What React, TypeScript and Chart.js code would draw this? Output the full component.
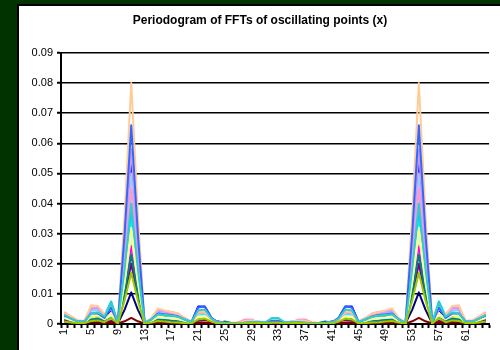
import React, { useEffect, useRef } from "react";
import { Chart, registerables } from "chart.js";

Chart.register(...registerables);

const chartTitle = "Periodogram of FFTs of oscillating points (x)";

const categories = [
  "1","2","3","4","5","6","7","8","9","10","11","12","13","14","15","16",
  "17","18","19","20","21","22","23","24","25","26","27","28","29","30","31","32",
  "33","34","35","36","37","38","39","40","41","42","43","44","45","46","47","48",
  "49","50","51","52","53","54","55","56","57","58","59","60","61","62","63","64",
];

const yTicks = [0, 0.01, 0.02, 0.03, 0.04, 0.05, 0.06, 0.07, 0.08, 0.09];

const navy = [15e-4,10e-4,5e-4,5e-4,10e-4,12e-4,5e-4,8e-4,2e-4, 47e-4,105e-4,47e-4, 2e-4,5e-4,8e-4,6e-4,5e-4,4e-4,3e-4,2e-4,10e-4,12e-4,6e-4,8e-4,4e-4,2e-4,2e-4,1e-4,2e-4,2e-4,1e-4,3e-4, 3e-4,1e-4,2e-4,2e-4,1e-4,2e-4,2e-4,4e-4,8e-4,6e-4,12e-4,10e-4,2e-4,3e-4,4e-4,5e-4,6e-4,8e-4,5e-4,2e-4, 47e-4,105e-4,47e-4, 2e-4,8e-4,5e-4,12e-4,10e-4,5e-4,5e-4,10e-4,15e-4];
const magenta = [20e-4,10e-4,5e-4,5e-4,12e-4,15e-4,8e-4,10e-4,3e-4, 117e-4,260e-4,117e-4, 3e-4,8e-4,15e-4,12e-4,10e-4,8e-4,5e-4,3e-4,15e-4,15e-4,8e-4,3e-4,2e-4,1e-4,1e-4,2e-4,5e-4,5e-4,2e-4,3e-4, 3e-4,2e-4,5e-4,5e-4,2e-4,1e-4,1e-4,2e-4,3e-4,8e-4,15e-4,15e-4,3e-4,5e-4,8e-4,10e-4,12e-4,15e-4,8e-4,3e-4, 117e-4,260e-4,117e-4, 3e-4,10e-4,8e-4,15e-4,12e-4,5e-4,5e-4,10e-4,20e-4];
const yellow = [10e-4,8e-4,5e-4,8e-4,20e-4,25e-4,10e-4,12e-4,3e-4, 135e-4,300e-4,135e-4, 2e-4,6e-4,12e-4,10e-4,8e-4,6e-4,4e-4,3e-4,12e-4,12e-4,5e-4,2e-4,2e-4,3e-4,5e-4,3e-4,3e-4,3e-4,2e-4,2e-4, 2e-4,2e-4,3e-4,3e-4,3e-4,5e-4,3e-4,2e-4,2e-4,5e-4,12e-4,12e-4,3e-4,4e-4,6e-4,8e-4,10e-4,12e-4,6e-4,2e-4, 135e-4,300e-4,135e-4, 3e-4,12e-4,10e-4,25e-4,20e-4,8e-4,5e-4,8e-4,10e-4];
const cyan = [25e-4,15e-4,8e-4,6e-4,30e-4,35e-4,25e-4,65e-4,5e-4, 158e-4,350e-4,158e-4, 3e-4,12e-4,25e-4,22e-4,20e-4,18e-4,12e-4,5e-4,30e-4,32e-4,15e-4,3e-4,2e-4,2e-4,2e-4,3e-4,5e-4,5e-4,3e-4,12e-4, 12e-4,3e-4,5e-4,5e-4,3e-4,2e-4,2e-4,2e-4,3e-4,15e-4,32e-4,30e-4,5e-4,12e-4,18e-4,20e-4,22e-4,25e-4,12e-4,3e-4, 158e-4,350e-4,158e-4, 5e-4,65e-4,25e-4,35e-4,30e-4,6e-4,8e-4,15e-4,25e-4];
const purple = [12e-4,8e-4,5e-4,4e-4,10e-4,12e-4,6e-4,10e-4,3e-4, 90e-4,200e-4,90e-4, 2e-4,6e-4,12e-4,10e-4,9e-4,8e-4,5e-4,3e-4,12e-4,14e-4,8e-4,6e-4,3e-4,2e-4,2e-4,3e-4,4e-4,4e-4,2e-4,3e-4, 3e-4,2e-4,4e-4,4e-4,3e-4,2e-4,2e-4,3e-4,6e-4,8e-4,14e-4,12e-4,3e-4,5e-4,8e-4,9e-4,10e-4,12e-4,6e-4,2e-4, 90e-4,200e-4,90e-4, 3e-4,10e-4,6e-4,12e-4,10e-4,4e-4,5e-4,8e-4,12e-4];
const darkRed = [8e-4,5e-4,3e-4,3e-4,5e-4,5e-4,3e-4,5e-4,2e-4, 9e-4,20e-4,9e-4, 1e-4,3e-4,4e-4,4e-4,3e-4,3e-4,2e-4,2e-4,4e-4,4e-4,3e-4,2e-4,2e-4,1e-4,1e-4,1e-4,2e-4,2e-4,1e-4,2e-4, 2e-4,1e-4,2e-4,2e-4,1e-4,1e-4,1e-4,2e-4,2e-4,3e-4,4e-4,4e-4,2e-4,2e-4,3e-4,3e-4,4e-4,4e-4,3e-4,1e-4, 9e-4,20e-4,9e-4, 2e-4,5e-4,3e-4,5e-4,5e-4,3e-4,3e-4,5e-4,8e-4];
const teal = [20e-4,12e-4,6e-4,5e-4,15e-4,18e-4,10e-4,20e-4,3e-4, 104e-4,230e-4,104e-4, 2e-4,8e-4,15e-4,15e-4,12e-4,10e-4,6e-4,3e-4,20e-4,22e-4,10e-4,4e-4,8e-4,3e-4,2e-4,2e-4,3e-4,3e-4,3e-4,15e-4, 15e-4,3e-4,3e-4,3e-4,2e-4,2e-4,3e-4,8e-4,4e-4,10e-4,22e-4,20e-4,3e-4,6e-4,10e-4,12e-4,15e-4,15e-4,8e-4,2e-4, 104e-4,230e-4,104e-4, 3e-4,20e-4,10e-4,18e-4,15e-4,5e-4,6e-4,12e-4,20e-4];
const blue = [25e-4,15e-4,8e-4,8e-4,30e-4,28e-4,15e-4,50e-4,5e-4, 248e-4,550e-4,248e-4, 3e-4,12e-4,30e-4,28e-4,25e-4,20e-4,12e-4,5e-4,58e-4,58e-4,20e-4,5e-4,3e-4,2e-4,2e-4,3e-4,5e-4,5e-4,3e-4,10e-4, 10e-4,3e-4,5e-4,5e-4,3e-4,2e-4,2e-4,3e-4,5e-4,20e-4,58e-4,58e-4,5e-4,12e-4,20e-4,25e-4,28e-4,30e-4,12e-4,3e-4, 248e-4,550e-4,248e-4, 5e-4,50e-4,15e-4,28e-4,30e-4,8e-4,8e-4,15e-4,25e-4];
const skyBlue = [28e-4,18e-4,8e-4,6e-4,35e-4,38e-4,28e-4,75e-4,5e-4, 171e-4,380e-4,171e-4, 3e-4,15e-4,30e-4,28e-4,25e-4,22e-4,15e-4,6e-4,40e-4,42e-4,15e-4,4e-4,3e-4,2e-4,2e-4,3e-4,5e-4,5e-4,4e-4,15e-4, 15e-4,4e-4,5e-4,5e-4,3e-4,2e-4,2e-4,3e-4,4e-4,15e-4,42e-4,40e-4,6e-4,15e-4,22e-4,25e-4,28e-4,30e-4,15e-4,3e-4, 171e-4,380e-4,171e-4, 5e-4,75e-4,28e-4,38e-4,35e-4,6e-4,8e-4,18e-4,28e-4];
const lightTurquoise = [30e-4,20e-4,10e-4,8e-4,40e-4,45e-4,30e-4,60e-4,5e-4, 203e-4,450e-4,203e-4, 3e-4,15e-4,35e-4,32e-4,30e-4,28e-4,18e-4,6e-4,35e-4,38e-4,15e-4,4e-4,3e-4,2e-4,2e-4,4e-4,6e-4,6e-4,4e-4,12e-4, 12e-4,4e-4,6e-4,6e-4,4e-4,2e-4,2e-4,3e-4,4e-4,15e-4,38e-4,35e-4,6e-4,18e-4,28e-4,30e-4,32e-4,35e-4,15e-4,3e-4, 203e-4,450e-4,203e-4, 5e-4,60e-4,30e-4,45e-4,40e-4,8e-4,10e-4,20e-4,30e-4];
const lightGreen = [20e-4,12e-4,6e-4,5e-4,25e-4,28e-4,15e-4,30e-4,4e-4, 135e-4,300e-4,135e-4, 3e-4,10e-4,22e-4,20e-4,18e-4,16e-4,10e-4,5e-4,22e-4,24e-4,10e-4,3e-4,2e-4,2e-4,2e-4,3e-4,5e-4,5e-4,3e-4,8e-4, 8e-4,3e-4,5e-4,5e-4,3e-4,2e-4,2e-4,2e-4,3e-4,10e-4,24e-4,22e-4,5e-4,10e-4,16e-4,18e-4,20e-4,22e-4,10e-4,3e-4, 135e-4,300e-4,135e-4, 4e-4,30e-4,15e-4,28e-4,25e-4,5e-4,6e-4,12e-4,20e-4];
const lightYellow = [22e-4,14e-4,6e-4,5e-4,30e-4,30e-4,18e-4,35e-4,4e-4, 144e-4,320e-4,144e-4, 3e-4,10e-4,25e-4,22e-4,20e-4,18e-4,12e-4,5e-4,25e-4,26e-4,10e-4,3e-4,2e-4,2e-4,3e-4,4e-4,6e-4,6e-4,3e-4,8e-4, 8e-4,3e-4,6e-4,6e-4,4e-4,3e-4,2e-4,2e-4,3e-4,10e-4,26e-4,25e-4,5e-4,12e-4,18e-4,20e-4,22e-4,25e-4,10e-4,3e-4, 144e-4,320e-4,144e-4, 4e-4,35e-4,18e-4,30e-4,30e-4,5e-4,6e-4,14e-4,22e-4];
const paleBlue = [32e-4,20e-4,10e-4,8e-4,45e-4,45e-4,28e-4,55e-4,5e-4, 225e-4,500e-4,225e-4, 3e-4,15e-4,40e-4,38e-4,35e-4,30e-4,18e-4,6e-4,40e-4,42e-4,15e-4,4e-4,3e-4,2e-4,2e-4,5e-4,8e-4,8e-4,4e-4,10e-4, 10e-4,4e-4,8e-4,8e-4,5e-4,2e-4,2e-4,3e-4,4e-4,15e-4,42e-4,40e-4,6e-4,18e-4,30e-4,35e-4,38e-4,40e-4,15e-4,3e-4, 225e-4,500e-4,225e-4, 5e-4,55e-4,28e-4,45e-4,45e-4,8e-4,10e-4,20e-4,32e-4];
const rose = [40e-4,25e-4,12e-4,10e-4,55e-4,55e-4,30e-4,50e-4,5e-4, 203e-4,450e-4,203e-4, 3e-4,18e-4,45e-4,40e-4,35e-4,30e-4,18e-4,8e-4,35e-4,38e-4,15e-4,5e-4,3e-4,3e-4,5e-4,15e-4,15e-4,5e-4,4e-4,6e-4, 6e-4,4e-4,5e-4,15e-4,15e-4,5e-4,3e-4,3e-4,5e-4,15e-4,38e-4,35e-4,8e-4,18e-4,30e-4,35e-4,40e-4,45e-4,18e-4,3e-4, 203e-4,450e-4,203e-4, 5e-4,50e-4,30e-4,55e-4,55e-4,10e-4,12e-4,25e-4,40e-4];
const lavender = [35e-4,22e-4,10e-4,8e-4,50e-4,52e-4,28e-4,55e-4,5e-4, 261e-4,580e-4,261e-4, 3e-4,18e-4,45e-4,42e-4,40e-4,35e-4,20e-4,8e-4,45e-4,45e-4,18e-4,5e-4,3e-4,2e-4,3e-4,8e-4,10e-4,8e-4,4e-4,8e-4, 8e-4,4e-4,8e-4,10e-4,8e-4,3e-4,2e-4,3e-4,5e-4,18e-4,45e-4,45e-4,8e-4,20e-4,35e-4,40e-4,42e-4,45e-4,18e-4,3e-4, 261e-4,580e-4,261e-4, 5e-4,55e-4,28e-4,52e-4,50e-4,8e-4,10e-4,22e-4,35e-4];
const tan = [38e-4,25e-4,12e-4,10e-4,62e-4,60e-4,32e-4,58e-4,5e-4, 360e-4,800e-4,360e-4, 3e-4,20e-4,52e-4,45e-4,40e-4,35e-4,20e-4,8e-4,40e-4,42e-4,15e-4,5e-4,3e-4,2e-4,3e-4,10e-4,12e-4,8e-4,4e-4,6e-4, 6e-4,4e-4,8e-4,12e-4,10e-4,3e-4,2e-4,3e-4,5e-4,15e-4,42e-4,40e-4,8e-4,20e-4,35e-4,40e-4,45e-4,52e-4,20e-4,3e-4, 360e-4,800e-4,360e-4, 5e-4,58e-4,32e-4,60e-4,62e-4,10e-4,12e-4,25e-4,38e-4];
const royalBlue = [28e-4,18e-4,8e-4,8e-4,35e-4,35e-4,20e-4,55e-4,5e-4, 297e-4,660e-4,297e-4, 3e-4,15e-4,35e-4,32e-4,30e-4,25e-4,15e-4,6e-4,55e-4,58e-4,20e-4,5e-4,3e-4,2e-4,2e-4,4e-4,6e-4,6e-4,4e-4,10e-4, 10e-4,4e-4,6e-4,6e-4,4e-4,2e-4,2e-4,3e-4,5e-4,20e-4,58e-4,55e-4,6e-4,15e-4,25e-4,30e-4,32e-4,35e-4,15e-4,3e-4, 297e-4,660e-4,297e-4, 5e-4,55e-4,20e-4,35e-4,35e-4,8e-4,8e-4,18e-4,28e-4];
const aqua = [30e-4,18e-4,8e-4,6e-4,35e-4,38e-4,25e-4,70e-4,5e-4, 180e-4,400e-4,180e-4, 3e-4,15e-4,32e-4,30e-4,28e-4,24e-4,15e-4,6e-4,45e-4,48e-4,18e-4,4e-4,3e-4,2e-4,2e-4,4e-4,6e-4,6e-4,5e-4,20e-4, 20e-4,5e-4,6e-4,6e-4,4e-4,2e-4,2e-4,3e-4,4e-4,18e-4,48e-4,45e-4,6e-4,15e-4,24e-4,28e-4,30e-4,32e-4,15e-4,3e-4, 180e-4,400e-4,180e-4, 5e-4,70e-4,25e-4,38e-4,35e-4,6e-4,8e-4,18e-4,30e-4];
const lime = [8e-4,5e-4,3e-4,3e-4,10e-4,12e-4,6e-4,20e-4,2e-4, 77e-4,170e-4,77e-4, 1e-4,5e-4,10e-4,8e-4,6e-4,5e-4,3e-4,2e-4,15e-4,18e-4,8e-4,2e-4,1e-4,1e-4,1e-4,2e-4,3e-4,3e-4,2e-4,5e-4, 5e-4,2e-4,3e-4,3e-4,2e-4,1e-4,1e-4,1e-4,2e-4,8e-4,18e-4,15e-4,2e-4,3e-4,5e-4,6e-4,8e-4,10e-4,5e-4,1e-4, 77e-4,170e-4,77e-4, 2e-4,20e-4,6e-4,12e-4,10e-4,3e-4,3e-4,5e-4,8e-4];

const seriesNames = [
  "Series1","Series2","Series3","Series4","Series5","Series6","Series7","Series8","Series9","Series10",
  "Series11","Series12","Series13","Series14","Series15","Series16","Series17","Series18","Series19",
];
const seriesValues = [
  navy, magenta, yellow, cyan, purple, darkRed, teal, blue, skyBlue, lightTurquoise,
  lightGreen, lightYellow, paleBlue, rose, lavender, tan, royalBlue, aqua, lime,
];
const seriesColors = [
  "#000080","#FF00FF","#FFFF00","#00FFFF","#800080","#800000","#008080","#0000FF","#00CCFF","#CCFFFF",
  "#CCFFCC","#FFFF99","#99CCFF","#FF99CC","#CC99FF","#FFCC99","#3366FF","#33CCCC","#99CC00",
];

const FONT = "'Liberation Sans', Arial, sans-serif";

const panelPlugin = {
  id: "panelBackground",
  beforeDraw(chart: any) {
    const { ctx, width, height } = chart;
    ctx.save();
    ctx.fillStyle = "#003300";
    ctx.fillRect(0, 0, width, height);
    ctx.fillStyle = "#000000";
    ctx.fillRect(17, 4, width - 17, height - 4);
    ctx.fillStyle = "#ffffff";
    ctx.fillRect(19, 6, width - 19, height - 6);
    ctx.restore();
  },
};

export default function App() {
  const canvasRef = useRef<HTMLCanvasElement | null>(null);

  useEffect(() => {
    if (!canvasRef.current) return;
    const n = seriesValues.length;
    const chart = new Chart(canvasRef.current, {
      type: "line",
      data: {
        labels: categories,
        datasets: seriesValues.map((vals, i) => ({
          label: seriesNames[i],
          data: vals,
          borderColor: seriesColors[i],
          backgroundColor: seriesColors[i],
          borderWidth: 2,
          pointRadius: 0,
          tension: 0,
          fill: false,
          borderJoinStyle: "round" as const,
          order: n - i,
        })),
      },
      options: {
        responsive: false,
        animation: false,
        layout: { padding: { left: 28, right: 8, top: 6, bottom: 0 } },
        plugins: {
          legend: { display: false },
          tooltip: { enabled: false },
          title: {
            display: true,
            text: chartTitle,
            color: "#000000",
            font: { family: FONT, size: 12, weight: "bold" },
            padding: { top: 7, bottom: 25.6 },
          },
        },
        scales: {
          x: {
            type: "category",
            offset: true,
            grid: {
              display: true,
              drawOnChartArea: false,
              drawTicks: true,
              offset: true,
              tickLength: 4,
              tickColor: "#000000",
              tickWidth: 2,
            },
            border: { display: true, color: "#000000", width: 2 },
            ticks: {
              autoSkip: false,
              maxRotation: 90,
              minRotation: 90,
              padding: 1,
              color: "#000000",
              font: { family: FONT, size: 11 },
              callback: (_v: any, idx: number) => (idx % 4 === 0 ? categories[idx] : ""),
            },
            afterFit: (scale: any) => {
              scale.height = 26;
            },
          },
          y: {
            min: 0,
            max: 0.09,
            grid: {
              color: "#000000",
              lineWidth: 1.5,
              tickLength: 4,
              tickColor: "#000000",
              tickWidth: 2,
            },
            border: { display: true, color: "#000000", width: 2 },
            afterBuildTicks: (scale: any) => {
              scale.ticks = yTicks.map((v) => ({ value: v }));
            },
            ticks: {
              padding: 4,
              color: "#000000",
              font: { family: FONT, size: 11 },
              callback: (v: any) => (Number(v) === 0 ? "0" : Number(v).toFixed(2)),
            },
            afterFit: (scale: any) => {
              scale.width = 33;
            },
          },
        },
      },
      plugins: [panelPlugin],
    });
    return () => chart.destroy();
  }, []);

  return (
    <div
      style={{
        position: "fixed",
        left: 0,
        top: 0,
        width: 500,
        height: 350,
        background: "#003300",
        overflow: "hidden",
      }}
    >
      <canvas ref={canvasRef} width={500} height={350} style={{ display: "block" }} />
    </div>
  );
}
